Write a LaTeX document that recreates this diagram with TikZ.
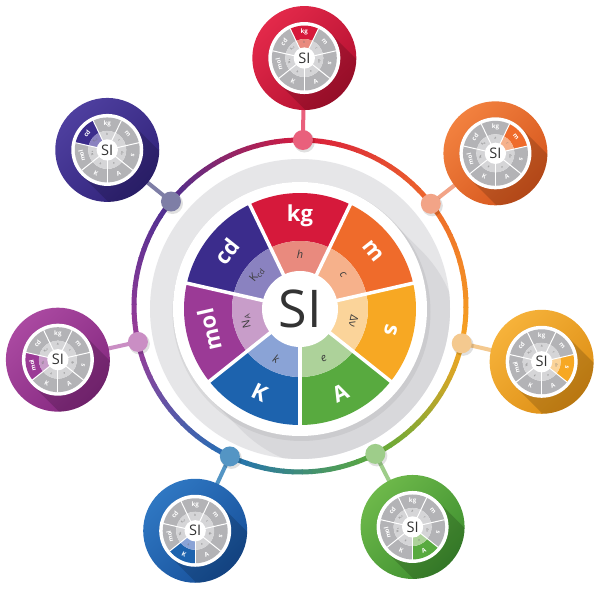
\documentclass[tikz,border=0pt]{standalone}
\usepackage{fontspec}
\setmainfont{Open Sans}
\usetikzlibrary{calc}
% segment colours (outer / inner)
\definecolor{cKG}{HTML}{D6193B}\definecolor{iKG}{HTML}{E98A7E}
\definecolor{cM}{HTML}{EF6B2B}\definecolor{iM}{HTML}{F6B18B}
\definecolor{cS}{HTML}{F7A823}\definecolor{iS}{HTML}{FBD49A}
\definecolor{cA}{HTML}{58AA3F}\definecolor{iA}{HTML}{ADD29A}
\definecolor{cK}{HTML}{1D63AE}\definecolor{iK}{HTML}{8AA3D6}
\definecolor{cMOL}{HTML}{9B3A96}\definecolor{iMOL}{HTML}{C89DC9}
\definecolor{cCD}{HTML}{3B2C8C}\definecolor{iCD}{HTML}{8A82C0}
\definecolor{sgo}{HTML}{B3B3B6}\definecolor{sgi}{HTML}{D5D5D7}
% ring colours
\definecolor{rKG}{HTML}{D81B3C}\definecolor{rM}{HTML}{EE6A2A}
\definecolor{rS}{HTML}{F6A522}\definecolor{rA}{HTML}{5DAA3A}
\definecolor{rK}{HTML}{2270B5}\definecolor{rMOL}{HTML}{9C3C98}
\definecolor{rCD}{HTML}{4B2F91}
% satellite rings
\definecolor{lKG}{HTML}{E3294A}\definecolor{dkKG}{HTML}{B31030}
\definecolor{lM}{HTML}{F2813F}\definecolor{dkM}{HTML}{D5551C}
\definecolor{lS}{HTML}{F6B23A}\definecolor{dkS}{HTML}{DD8E14}
\definecolor{lA}{HTML}{6DB84A}\definecolor{dkA}{HTML}{3E8F2F}
\definecolor{lK}{HTML}{2F77C2}\definecolor{dkK}{HTML}{17509A}
\definecolor{lMOL}{HTML}{AA49A1}\definecolor{dkMOL}{HTML}{84287F}
\definecolor{lCD}{HTML}{4E3F9F}\definecolor{dkCD}{HTML}{31237A}
% dots
\definecolor{pKG}{HTML}{E9607C}\definecolor{pM}{HTML}{F2A487}
\definecolor{pS}{HTML}{F4C98F}\definecolor{pA}{HTML}{9ECD8A}
\definecolor{pK}{HTML}{5495C4}\definecolor{pMOL}{HTML}{CA8EC4}
\definecolor{pCD}{HTML}{7E7EA6}
\definecolor{bgray}{HTML}{E6E6E8}\definecolor{bshadow}{HTML}{D8D8DB}
\definecolor{sitext}{HTML}{333333}\definecolor{innertext}{HTML}{3C3C3C}
\definecolor{satinner}{HTML}{707070}
\tikzset{
  seglab/.style={text=white, font=\bfseries\fontsize{22}{22}\selectfont, inner sep=0pt},
  constlab/.style={font=\fontsize{11}{11}\selectfont, inner sep=0pt},
  silab/.style={font=\fontsize{52}{52}\selectfont, text=sitext, inner sep=0pt},
  stemline/.style={line width=4pt},
  dotnode/.style={circle, inner sep=0pt, minimum size=20pt},
  satnode/.style={circle, inner sep=0pt, minimum size=104pt},
}
\newcommand\siwheel[3]{%
  \edef\hl{#1}%
  \foreach \i/\ang/\oc/\ic/\lab/\ilab/\rot in {
      1/90/cKG/iKG/kg/{\itshape h}/0,
      2/38.571/cM/iM/m/{\itshape c}/-51.43,
      3/-12.857/cS/iS/s/{Δν}/-102.86,
      4/-64.286/cA/iA/A/{\itshape e}/25.71,
      5/-115.714/cK/iK/K/{\itshape k}/-25.71,
      6/-167.143/cMOL/iMOL/mol/{N\textsubscript{A}}/102.86,
      7/141.429/cCD/iCD/cd/{K\textsubscript{cd}}/51.43}{
    \ifnum\hl=0 \edef\co{\oc}\edef\ci{\ic}\else
      \ifnum\hl=\i\relax \edef\co{\oc}\edef\ci{\ic}\else\edef\co{sgo}\edef\ci{sgi}\fi
    \fi
    \fill[fill=\co] (\ang-25.714:116) arc[start angle=\ang-25.714,end angle=\ang+25.714,radius=116]
       -- (\ang+25.714:68) arc[start angle=\ang+25.714,end angle=\ang-25.714,radius=68] -- cycle;
    \fill[fill=\ci] (\ang-25.714:68) arc[start angle=\ang-25.714,end angle=\ang+25.714,radius=68]
       -- (\ang+25.714:36) arc[start angle=\ang+25.714,end angle=\ang-25.714,radius=36] -- cycle;
    \node[seglab, rotate=\rot] (lab\i) at (\ang:93) {\lab};
    \node[constlab, rotate=\rot, text=#3] (con\i) at (\ang:55) {\ilab};
  }
  \foreach \b in {64.286,12.857,-38.571,-90,-141.429,167.143,115.714}{
    \draw[white, line width=#2] (\b:35) -- (\b:117);
  }
  \fill[white] (0,0) circle (38);
  \node[silab] (si) at (0,0) {SI};
}
\begin{document}
\begin{tikzpicture}[x=1pt,y=1pt]
\fill[white] (-300,-285) rectangle (300,306);
\useasboundingbox (-300,-285) rectangle (300,306);
% background disk with long shadow
\begin{scope}[shift={(0,-3)}]
  \fill[bgray] (0,0) circle (150);
  \begin{scope}
    \clip (0,0) circle (150);
    \fill[bshadow] (45:127) arc[start angle=45,end angle=225,radius=127]
      -- ($(225:127)+(-45:45)$) arc[start angle=225,end angle=405,radius=127] -- cycle;
  \end{scope}
\end{scope}
% gradient ring
\foreach \aa/\ab/\ca/\cb in {89/38/rKG/rM, 38/-13/rM/rS, -13/-63/rS/rA, -63/-115/rA/rK,
    -115/-167.5/rK/rMOL, -167.5/-219/rMOL/rCD, -219/-271/rCD/rKG}{
  \foreach \k in {0,...,15}{
    \pgfmathsetmacro\sa{\aa+(\ab-\aa)*\k/16}
    \pgfmathsetmacro\sb{\aa+(\ab-\aa)*(\k+1)/16-0.4}
    \pgfmathtruncatemacro\pc{100*(\k+0.5)/16}
    \draw[line width=5pt, color=\cb!\pc!\ca] (\sa:166) arc[start angle=\sa,end angle=\sb,radius=166];
  }
}
% coordinates
\foreach \j/\ang in {1/89,2/38,3/-13,4/-63,5/-115,6/192.5,7/141}{
  \coordinate (dc\j) at (\ang:166);
  \coordinate (sc\j) at (\ang:248);
}
% stems
\foreach \j/\pc in {1/pKG,2/pM,3/pS,4/pA,5/pK,6/pMOL,7/pCD}{
  \draw[stemline, \pc] (dc\j) -- (sc\j);
}
% dots
\foreach \j/\pc in {1/pKG,2/pM,3/pS,4/pA,5/pK,6/pMOL,7/pCD}{
  \fill[black, opacity=0.12] ($(dc\j)+(1.5,-2)$) circle (10.5);
  \node[dotnode, fill=\pc] (dot\j) at (dc\j) {};
}
% satellites
\foreach \j/\lc/\dk in {1/lKG/dkKG,2/lM/dkM,3/lS/dkS,4/lA/dkA,5/lK/dkK,6/lMOL/dkMOL,7/lCD/dkCD}{
  \begin{scope}[shift={(sc\j)}]
    \shade[top color=\lc, bottom color=\dk, shading angle=45] (0,0) circle (52);
    \begin{scope}
      \clip (0,0) circle (52);
      \fill[black, opacity=0.16] (45:36) arc[start angle=45,end angle=225,radius=36]
        -- ($(225:36)+(-45:60)$) arc[start angle=225,end angle=405,radius=36] -- cycle;
    \end{scope}
    \node[satnode] (sat\j) at (0,0) {};
    \fill[white] (0,0) circle (36);
    \begin{scope}[scale=0.28, transform shape]
      \siwheel{\j}{1pt}{satinner}
    \end{scope}
  \end{scope}
}
% main wheel
\begin{scope}[shift={(0,-3)}]
  \fill[black, opacity=0.06] (1.5,-3) circle (129);
  \fill[white] (0,0) circle (127);
  \siwheel{0}{3.5pt}{innertext}
\end{scope}
\end{tikzpicture}
\end{document}
